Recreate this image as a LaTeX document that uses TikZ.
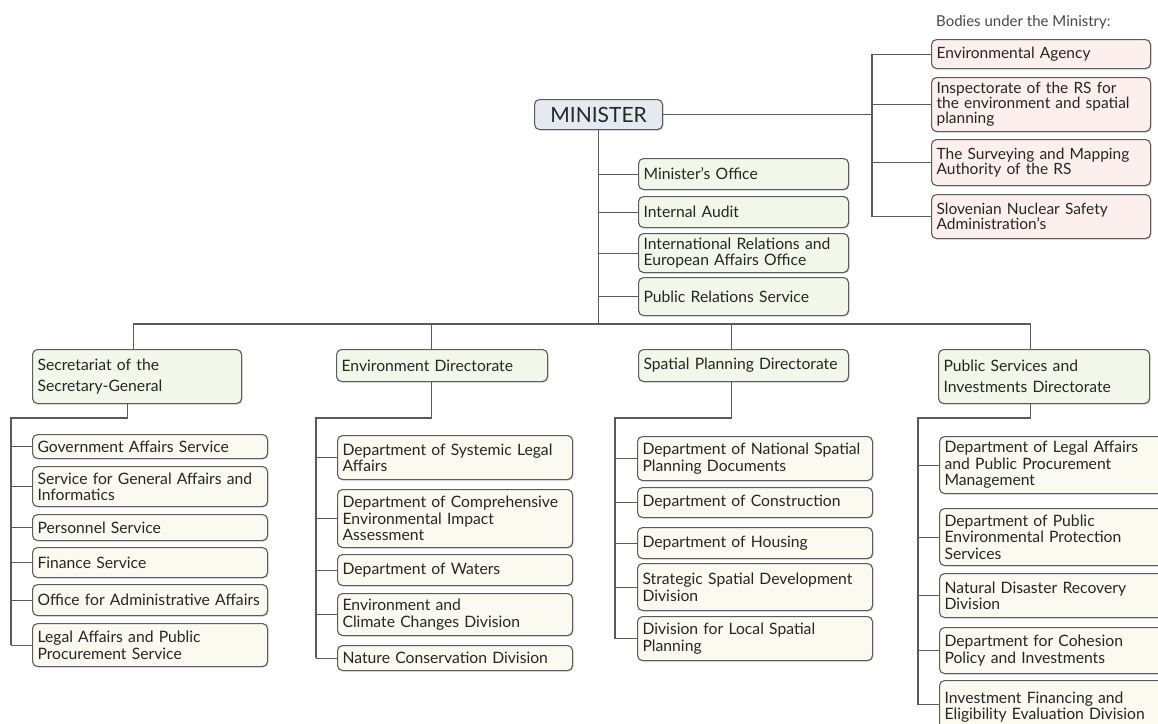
\documentclass[tikz,border=0pt]{standalone}
\usepackage{fontspec}
\setmainfont{Lato}
\usetikzlibrary{shadows}
\definecolor{edge}{HTML}{5C5C5C}
\definecolor{wire}{HTML}{5A5A5A}
\definecolor{minfill}{HTML}{E5EAF0}
\definecolor{grn}{HTML}{F2F7EA}
\definecolor{crm}{HTML}{FAFAF0}
\definecolor{pnk}{HTML}{FCEFEC}
\definecolor{ink}{HTML}{262626}

% box from (x1,y1) to (x2,y2), y measured downwards
\newcommand\orgbox[7]{%
  \pgfmathsetmacro\obw{#4-#2}%
  \pgfmathsetmacro\obh{#5-#3}%
  \pgfmathsetmacro\otw{#4-#2-10}%
  \node[#6, anchor=north west, minimum width=\obw pt, minimum height=\obh pt,
        text width=\otw pt] (#1) at (#2,#3) {#7};}

\begin{document}
\begin{tikzpicture}[x=1pt, y=-1pt,
  box/.style={draw=edge, line width=1.1pt, rounded corners=5pt,
    inner xsep=5pt, inner ysep=0pt, align=left, text=ink,
    font=\fontsize{15.7}{16.5}\selectfont,
    drop shadow={shadow xshift=1pt, shadow yshift=-1pt, opacity=0.3, fill=black!50}},
  topbox/.style={box, fill=minfill, align=center, font=\fontsize{21}{23}\selectfont},
  unitbox/.style={box, fill=grn},
  dirbox/.style={box, fill=grn, font=\fontsize{15.7}{21}\selectfont},
  subbox/.style={box, fill=crm},
  bodybox/.style={box, fill=pnk, font=\fontsize{15.5}{15}\selectfont},
  conn/.style={draw=wire, line width=1.1pt}]

\useasboundingbox (0,0) rectangle (1158,723);
\clip (0,0) rectangle (1158,723);

% top level
\orgbox{min}{534}{99}{662}{129}{topbox}{MINISTER}

% units attached to the minister
\orgbox{mo}{638}{158}{848}{189}{unitbox}{Minister's Office}
\orgbox{ia}{638}{196}{848}{227}{unitbox}{Internal Audit}
\orgbox{ir}{638}{233}{848}{272}{unitbox}{International Relations and\\European Affairs Office}
\orgbox{pr}{638}{277}{848}{315}{unitbox}{Public Relations Service}

% bodies under the ministry
\node[anchor=west, inner sep=0pt, text=ink!85, font=\fontsize{15}{16}\selectfont]
  (bodies) at (936,22) {Bodies under the Ministry:};
\orgbox{ea}{931}{39}{1150}{68}{bodybox}{Environmental Agency}
\orgbox{ins}{931}{77}{1150}{131}{bodybox}{Inspectorate of the RS for\\the environment and spatial\\planning}
\orgbox{sma}{931}{139}{1150}{185}{bodybox}{The Surveying and Mapping\\Authority of the RS}
\orgbox{snsa}{931}{194}{1150}{238}{bodybox}{Slovenian Nuclear Safety\\Administration's}

% directorates
\orgbox{sec}{32}{349}{241}{403}{dirbox}{Secretariat of the\\Secretary-General}
\orgbox{env}{336}{349}{547}{381}{dirbox}{Environment Directorate}
\orgbox{spa}{638}{349}{848}{381}{dirbox}{Spatial Planning Directorate}
\orgbox{psi}{938}{349}{1149}{403}{dirbox}{Public Services and\\Investments Directorate}

% secretariat units
\orgbox{s1}{32}{434}{267}{458}{subbox}{Government Affairs Service}
\orgbox{s2}{32}{466}{267}{506}{subbox}{Service for General Affairs and\\Informatics}
\orgbox{s3}{32}{514}{267}{540}{subbox}{Personnel Service}
\orgbox{s4}{32}{547}{267}{577}{subbox}{Finance Service}
\orgbox{s5}{32}{584}{267}{615}{subbox}{Office for Administrative Affairs}
\orgbox{s6}{32}{623}{267}{666}{subbox}{Legal Affairs and Public\\Procurement Service}

% environment directorate units
\orgbox{e1}{337}{435}{572}{479}{subbox}{Department of Systemic Legal\\Affairs}
\orgbox{e2}{337}{489}{572}{547}{subbox}{Department of Comprehensive\\Environmental Impact\\Assessment}
\orgbox{e3}{337}{554}{572}{585}{subbox}{Department of Waters}
\orgbox{e4}{337}{593}{572}{635}{subbox}{Environment and\\Climate Changes Division}
\orgbox{e5}{337}{645}{572}{670}{subbox}{Nature Conservation Division}

% spatial planning directorate units
\orgbox{p1}{637}{436}{872}{480}{subbox}{Department of National Spatial\\Planning Documents}
\orgbox{p2}{637}{487}{872}{517}{subbox}{Department of Construction}
\orgbox{p3}{637}{527}{872}{558}{subbox}{Department of Housing}
\orgbox{p4}{637}{563}{872}{610}{subbox}{Strategic Spatial Development\\Division}
\orgbox{p5}{637}{616}{872}{660}{subbox}{Division for Local Spatial\\Planning}

% public services and investments directorate units
\orgbox{q1}{939}{436}{1170}{493}{subbox}{Department of Legal Affairs\\and Public Procurement\\Management}
\orgbox{q2}{939}{508}{1170}{565}{subbox}{Department of Public\\Environmental Protection\\Services}
\orgbox{q3}{939}{573}{1170}{617}{subbox}{Natural Disaster Recovery\\Division}
\orgbox{q4}{939}{627}{1170}{673}{subbox}{Department for Cohesion\\Policy and Investments}
\orgbox{q5}{939}{680}{1170}{728}{subbox, text depth=14pt}{Investment Financing and\\Eligibility Evaluation Division}

% ---- connectors ----
\coordinate (bus) at (0,324);
\coordinate (bsp) at (872,0);
\coordinate (secS) at (11,418);
\coordinate (envS) at (316,418);
\coordinate (spaS) at (615,418);
\coordinate (psiS) at (918,418);

% minister spine and bus to the directorates
\draw[conn] (min.south) -- (min.south |- bus);
\draw[conn] ([xshift=-4pt]sec.north) |- ([xshift=-14pt]psi.north |- bus) -- ([xshift=-14pt]psi.north);
\draw[conn] ([xshift=-11pt]env.north) -- ([xshift=-11pt]env.north |- bus);
\draw[conn] ([xshift=-12pt]spa.north) -- ([xshift=-12pt]spa.north |- bus);
\foreach \u in {mo,ia,ir,pr} \draw[conn] (min.south |- \u.west) -- (\u.west);

% bodies under the ministry
\draw[conn] (min.east) -- (min.east -| bsp);
\draw[conn] (bsp |- ea.west) -- (bsp |- snsa.west);
\foreach \u in {ea,ins,sma,snsa} \draw[conn] (bsp |- \u.west) -- (\u.west);

% directorate spines
\draw[conn] ([xshift=-10pt]sec.south) |- (secS) -- (secS |- s6.west);
\foreach \u in {s1,s2,s3,s4,s5,s6} \draw[conn] (secS |- \u.west) -- (\u.west);
\draw[conn] ([xshift=-11pt]env.south) |- (envS) -- (envS |- e5.west);
\foreach \u in {e1,e2,e3,e4,e5} \draw[conn] (envS |- \u.west) -- (\u.west);
\draw[conn] ([xshift=-12pt]spa.south) |- (spaS) -- (spaS |- p5.west);
\foreach \u in {p1,p2,p3,p4,p5} \draw[conn] (spaS |- \u.west) -- (\u.west);
\draw[conn] ([xshift=-14pt]psi.south) |- (psiS) -- (psiS |- q5.west);
\foreach \u in {q1,q2,q3,q4,q5} \draw[conn] (psiS |- \u.west) -- (\u.west);
\end{tikzpicture}
\end{document}
